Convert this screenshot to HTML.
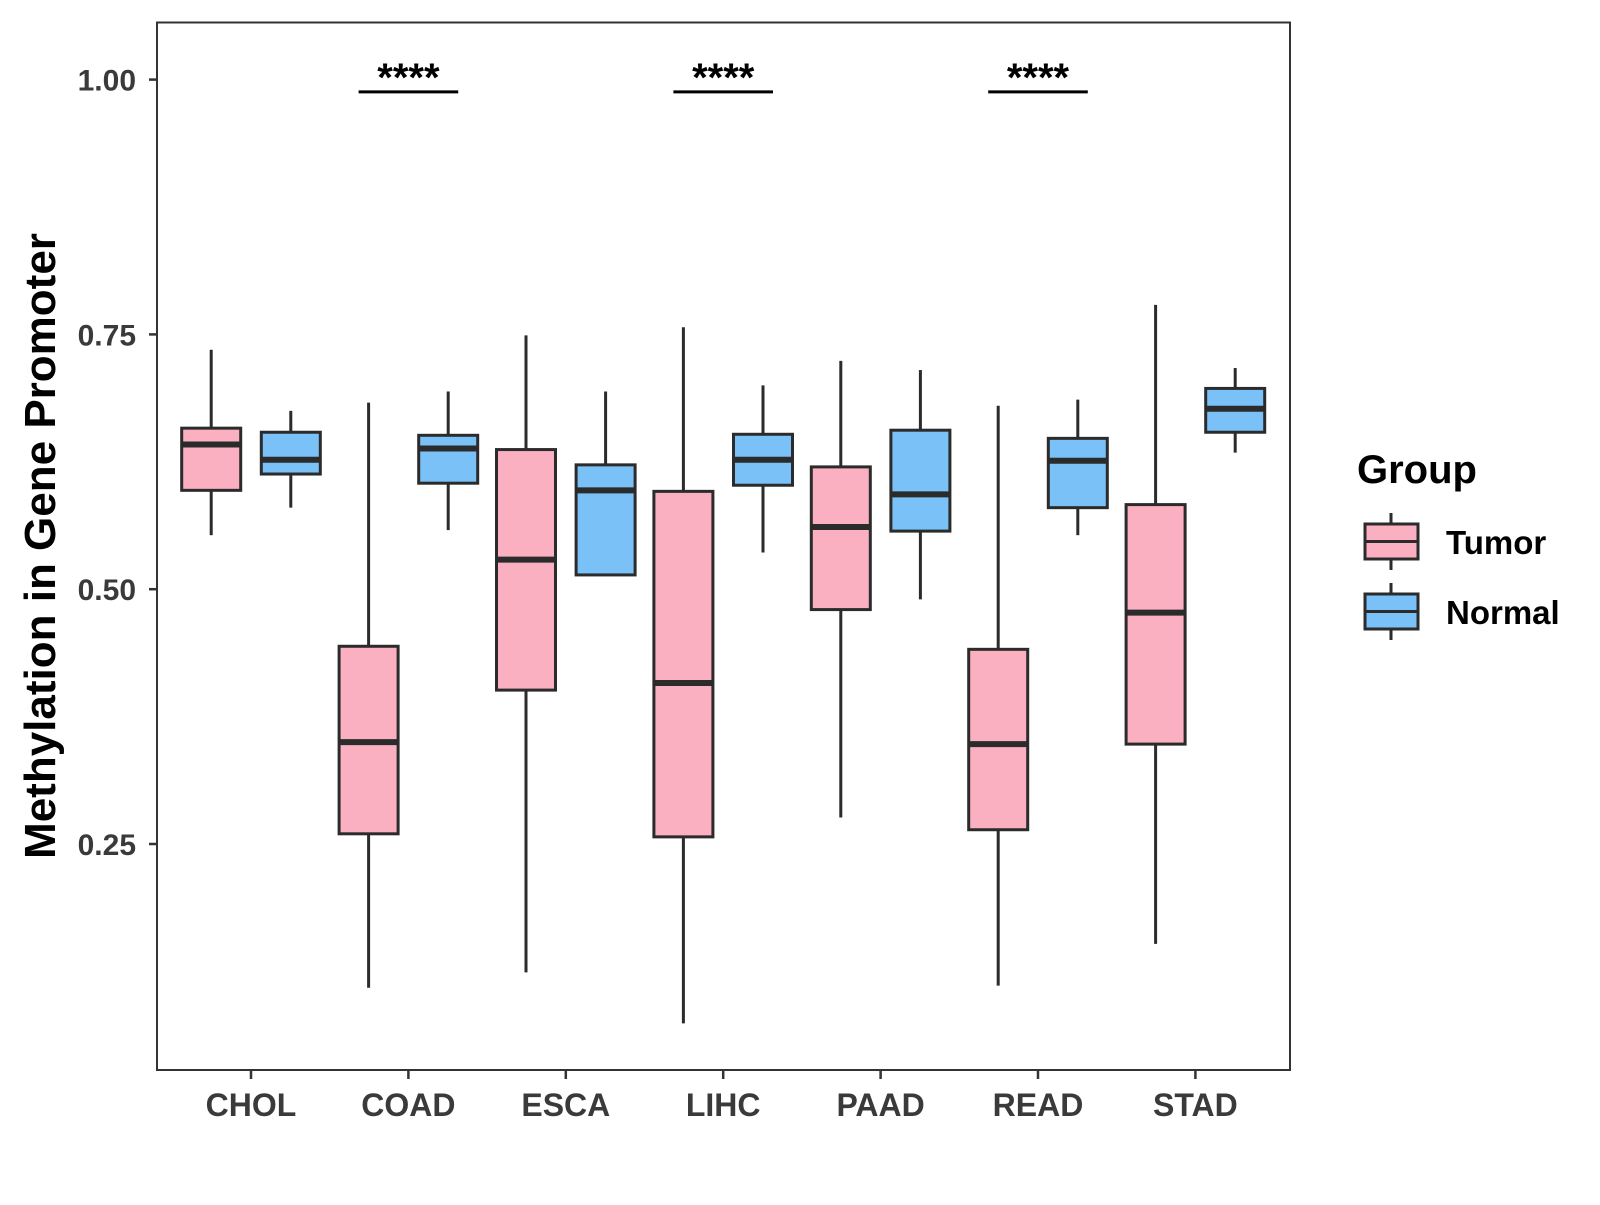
<!DOCTYPE html>
<html><head><meta charset="utf-8"><style>
html,body{margin:0;padding:0;background:#fff;}
svg text{font-family:"Liberation Sans",Arial,sans-serif;font-weight:bold;}
</style></head><body>
<svg id="chart" width="1600" height="1200" viewBox="0 0 1600 1200" xmlns="http://www.w3.org/2000/svg">
<rect x="0" y="0" width="1600" height="1200" fill="#fff"/>
<g id="plot"></g>
</svg>
<script>
const categories = ["CHOL","COAD","ESCA","LIHC","PAAD","READ","STAD"];
const groups = ["Tumor","Normal"];
// [lower whisker, q1, median, q3, upper whisker]
const tumorStats = [
 [0.553,0.597,0.642,0.658,0.735],
 [0.109,0.260,0.350,0.444,0.683],
 [0.124,0.401,0.529,0.637,0.749],
 [0.074,0.257,0.408,0.596,0.757],
 [0.276,0.480,0.561,0.620,0.724],
 [0.111,0.264,0.348,0.441,0.680],
 [0.152,0.348,0.477,0.583,0.779]
];
const normalStats = [
 [0.580,0.613,0.627,0.654,0.675],
 [0.558,0.604,0.638,0.651,0.694],
 [0.513,0.514,0.597,0.622,0.694],
 [0.536,0.602,0.627,0.652,0.700],
 [0.490,0.557,0.593,0.656,0.715],
 [0.553,0.580,0.626,0.648,0.686],
 [0.634,0.654,0.677,0.697,0.717]
];
const yTicks = [0.25,0.50,0.75,1.00];
const yTickLabels = ["0.25","0.50","0.75","1.00"];
const sigCategories = ["COAD","LIHC","READ"];
const sigLabels = ["****","****","****"];
const sigLevel = 0.988;

const L=157,T=22.5,R=1290,B=1070;
function y(v){return 79.6+(1-v)*1019.2;}
function x(i){return 251+i*157.4;}
const off=39.8, bw=59;
const NS="http://www.w3.org/2000/svg";
const g=document.getElementById('plot');
function el(tag,attrs,parent){const e=document.createElementNS(NS,tag);for(const k in attrs)e.setAttribute(k,attrs[k]);(parent||g).appendChild(e);return e;}
const stroke="#2b2b2b", fills={Tumor:"#fbb0c2",Normal:"#79c1f7"};

const panel=el('rect',{x:L,y:T,width:R-L,height:B-T,fill:'none',stroke:'#333','stroke-width':2});



yTicks.forEach((v,i)=>{
 const t=el('line',{x1:L-8,x2:L,y1:y(v),y2:y(v),stroke:'#333','stroke-width':2.5});
 
 
 const tx=el('text',{x:L-21,y:y(v)+11,'text-anchor':'end','font-size':30,fill:'#3a3a3a'});
 tx.textContent=yTickLabels[i];
 
 
});
categories.forEach((c,i)=>{
 const t=el('line',{x1:x(i),x2:x(i),y1:B,y2:B+9,stroke:'#333','stroke-width':2.5});
 
 
 const tx=el('text',{x:x(i),y:B+46,'text-anchor':'middle','font-size':32,fill:'#3a3a3a'});
 tx.textContent=c;
 
 
});

function drawBox(cx,s,fill,name){
 const gg=el('g',{});
 
 
 el('line',{x1:cx,x2:cx,y1:y(s[4]),y2:y(s[3]),stroke:stroke,'stroke-width':3},gg);
 el('line',{x1:cx,x2:cx,y1:y(s[1]),y2:y(s[0]),stroke:stroke,'stroke-width':3},gg);
 el('rect',{x:cx-bw/2,y:y(s[3]),width:bw,height:y(s[1])-y(s[3]),fill:fill,stroke:stroke,'stroke-width':3},gg);
 el('line',{x1:cx-bw/2,x2:cx+bw/2,y1:y(s[2]),y2:y(s[2]),stroke:stroke,'stroke-width':6},gg);
}
categories.forEach((c,i)=>{
 drawBox(x(i)-off,tumorStats[i],fills.Tumor,'box-tumor-'+c.toLowerCase());
 drawBox(x(i)+off,normalStats[i],fills.Normal,'box-normal-'+c.toLowerCase());
});
sigCategories.forEach((c,k)=>{
 const i=categories.indexOf(c);
 const ln=el('line',{x1:x(i)-off-10,x2:x(i)+off+10,y1:y(sigLevel),y2:y(sigLevel),stroke:'#000','stroke-width':3});
 
 
 const tx=el('text',{x:x(i),y:y(sigLevel)-1,'text-anchor':'middle','font-size':40,fill:'#000'});
 tx.textContent=sigLabels[k];
 
 
});
const yt=el('text',{x:0,y:0,transform:'translate(55,546) rotate(-90)','text-anchor':'middle','font-size':44,fill:'#000'});
yt.textContent='Methylation in Gene Promoter';


const lt=el('text',{x:1357,y:483,'font-size':40,fill:'#000'});
lt.textContent='Group';


groups.forEach((gname,k)=>{
 const top=524+k*70, cx=1391;
 const lg=el('g',{});
 
 
 el('line',{x1:cx,x2:cx,y1:top-11,y2:top+46,stroke:stroke,'stroke-width':3},lg);
 el('rect',{x:1365,y:top,width:53,height:35,fill:fills[gname],stroke:stroke,'stroke-width':3},lg);
 el('line',{x1:1365,x2:1418,y1:top+17.5,y2:top+17.5,stroke:stroke,'stroke-width':3},lg);
 const tx=el('text',{x:1446,y:top+30,'font-size':33,fill:'#000'},lg);
 tx.textContent=gname;
});
</script>
</body></html>
